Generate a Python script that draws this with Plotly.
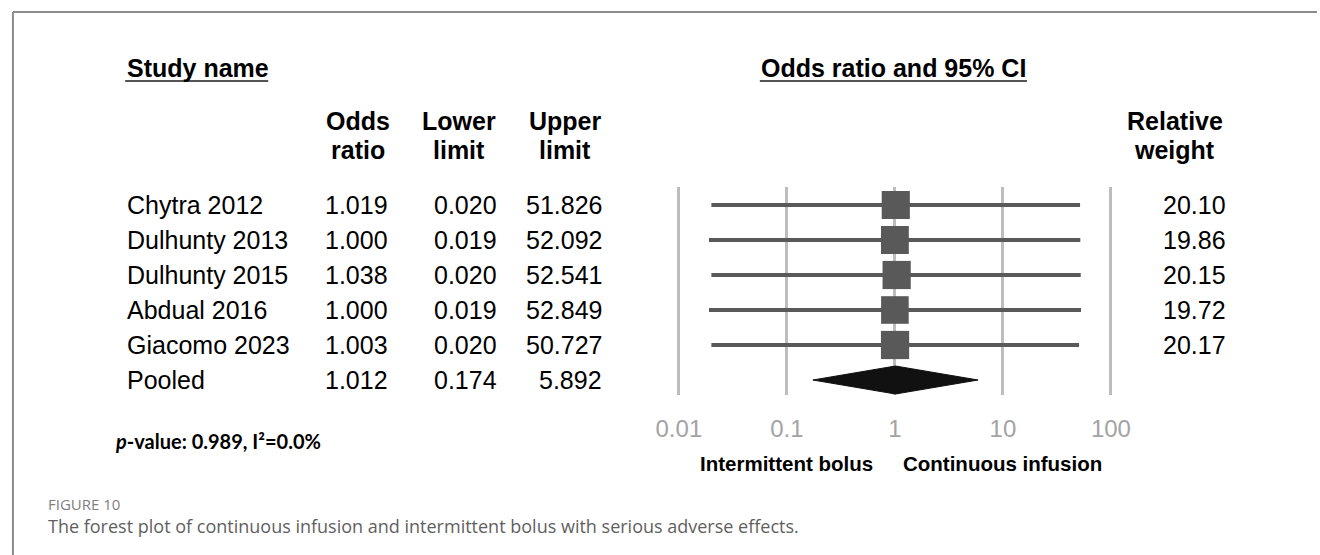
import math
import plotly.graph_objects as go

# ---------------- data ----------------
studies = ["Chytra 2012", "Dulhunty 2013", "Dulhunty 2015", "Abdual 2016", "Giacomo 2023"]
odds_ratio = [1.019, 1.000, 1.038, 1.000, 1.003]
lower_limit = [0.020, 0.019, 0.020, 0.019, 0.020]
upper_limit = [51.826, 52.092, 52.541, 52.849, 50.727]
relative_weight = [20.10, 19.86, 20.15, 19.72, 20.17]

pooled_label = "Pooled"
pooled_or = 1.012
pooled_lower = 0.174
pooled_upper = 5.892

tick_values = [0.01, 0.1, 1, 10, 100]
tick_labels = ["0.01", "0.1", "1", "10", "100"]

side_labels = ["Intermittent bolus", "Continuous infusion"]
side_label_pos = [0.1, 10]

stats_text = "<i>p</i>-value: 0.989, I²=0.0%"
fig_label = "FIGURE 10"
caption = ("The forest plot of continuous infusion and intermittent bolus "
           "with serious adverse effects.")

# ---------------- layout helpers ----------------
W, H = 1320, 555


def px(x):
    return x / W


def py(y):
    return 1 - y / H


ARIAL = "Liberation Sans, Arial, sans-serif"
rows = list(range(1, len(studies) + 1))
pooled_row = len(studies) + 1

fig = go.Figure()

# CI lines
ci_x, ci_y = [], []
for lo, hi, r in zip(lower_limit, upper_limit, rows):
    ci_x += [lo, hi, None]
    ci_y += [r, r, None]
fig.add_trace(go.Scatter(x=ci_x, y=ci_y, mode="lines",
                         line=dict(color="#595959", width=4),
                         hoverinfo="skip", showlegend=False))

# squares (size from weight)
fig.add_trace(go.Scatter(x=odds_ratio, y=rows, mode="markers",
                         marker=dict(symbol="square", size=[w * 1.4 for w in relative_weight],
                                     color="#595959", opacity=1, line=dict(width=0)),
                         showlegend=False))

# pooled diamond
half_h = 0.4
fig.add_trace(go.Scatter(
    x=[pooled_lower, pooled_or, pooled_upper, pooled_or, pooled_lower],
    y=[pooled_row, pooled_row - half_h, pooled_row, pooled_row + half_h, pooled_row],
    mode="lines", fill="toself", fillcolor="#111111",
    line=dict(color="#111111", width=1), showlegend=False))

# axes geometry (pixels)
dec = 108.75          # px per decade
x_one = 895           # pixel of OR = 1
left_px, right_px = 660, 1130
top_px, bot_px = 187, 395
row1_px, row_step = 205, 35

x_range = [(left_px - x_one) / dec, (right_px - x_one) / dec]
y_top = 1 - (row1_px - top_px) / row_step
y_bot = y_top + (bot_px - top_px) / row_step

fig.update_xaxes(type="log", domain=[px(left_px), px(right_px)], range=x_range,
                 tickvals=tick_values, ticktext=tick_labels,
                 showgrid=True, gridcolor="#bdbdbd", gridwidth=3,
                 zeroline=False, showline=False,
                 ticks="outside", ticklen=12, tickcolor="rgba(0,0,0,0)",
                 tickfont=dict(family=ARIAL, size=24, color="#a3a3a3"))
fig.update_yaxes(domain=[py(bot_px), py(top_px)], range=[y_bot, y_top],
                 visible=False)

ann = []


def add_text(text, x, y, size=25, bold=False, xanchor="left", color="#000000",
             family=ARIAL, yref="paper", xref="paper"):
    ann.append(dict(text=("<b>%s</b>" % text) if bold else text,
                    x=x, y=y, xref=xref, yref=yref, xanchor=xanchor, yanchor="middle",
                    showarrow=False, font=dict(family=family, size=size, color=color)))


# titles
add_text("Study name", px(120), py(68), bold=True)
add_text("Odds ratio and 95% CI", px(894), py(68), bold=True, xanchor="center")

# column headers
hdr1 = ["Odds", "Lower", "Upper", "Relative"]
hdr2 = ["ratio", "limit", "limit", "weight"]
hdr_x = [354, 456, 563, 1177]
for a, b, x in zip(hdr1, hdr2, hdr_x):
    add_text(a, px(x), py(121), bold=True, xanchor="center")
    add_text(b, px(x), py(150), bold=True, xanchor="center")

# table rows
all_names = studies + [pooled_label]
all_or = odds_ratio + [pooled_or]
all_lo = lower_limit + [pooled_lower]
all_hi = upper_limit + [pooled_upper]
all_rows = rows + [pooled_row]
for name, o, lo, hi, r in zip(all_names, all_or, all_lo, all_hi, all_rows):
    add_text(name, px(120), r, yref="y")
    add_text("%.3f" % o, px(387), r, yref="y", xanchor="right")
    add_text("%.3f" % lo, px(496), r, yref="y", xanchor="right")
    add_text("%.3f" % hi, px(602), r, yref="y", xanchor="right")
for w, r in zip(relative_weight, rows):
    add_text("%.2f" % w, px(1230), r, yref="y", xanchor="right")

# side labels under the axis
for lab, pos in zip(side_labels, side_label_pos):
    ann.append(dict(text="<b>%s</b>" % lab, x=math.log10(pos), xref="x",
                    y=py(463), yref="paper", xanchor="center", yanchor="middle",
                    showarrow=False, font=dict(family=ARIAL, size=20.5, color="#000")))

# stats
add_text("<b>%s</b>" % stats_text, px(108), py(441), size=20,
         family="Lato, Open Sans, sans-serif")

# figure label and caption
add_text(fig_label, px(40), py(504), size=15, family="Open Sans, sans-serif",
         color="#808080")
add_text(caption, px(40), py(526), size=18, family="Open Sans, sans-serif",
         color="#5f5f5f")

shapes = [
    # frame (top & left)
    dict(type="line", xref="paper", yref="paper", x0=px(7), x1=1.0, y0=py(12), y1=py(12),
         line=dict(color="#8c8c8c", width=2)),
    dict(type="line", xref="paper", yref="paper", x0=px(7), x1=px(7), y0=py(12), y1=0,
         line=dict(color="#8c8c8c", width=2)),
    # title underlines
    dict(type="line", xref="paper", yref="paper", x0=px(120), x1=px(264), y0=py(81), y1=py(81),
         line=dict(color="#555555", width=2)),
    dict(type="line", xref="paper", yref="paper", x0=px(759), x1=px(1028), y0=py(81), y1=py(81),
         line=dict(color="#555555", width=2)),
]

fig.update_layout(width=W, height=H, margin=dict(l=0, r=0, t=0, b=0),
                  paper_bgcolor="white", plot_bgcolor="white",
                  showlegend=False, annotations=ann, shapes=shapes)

fig.write_html("out.html")
